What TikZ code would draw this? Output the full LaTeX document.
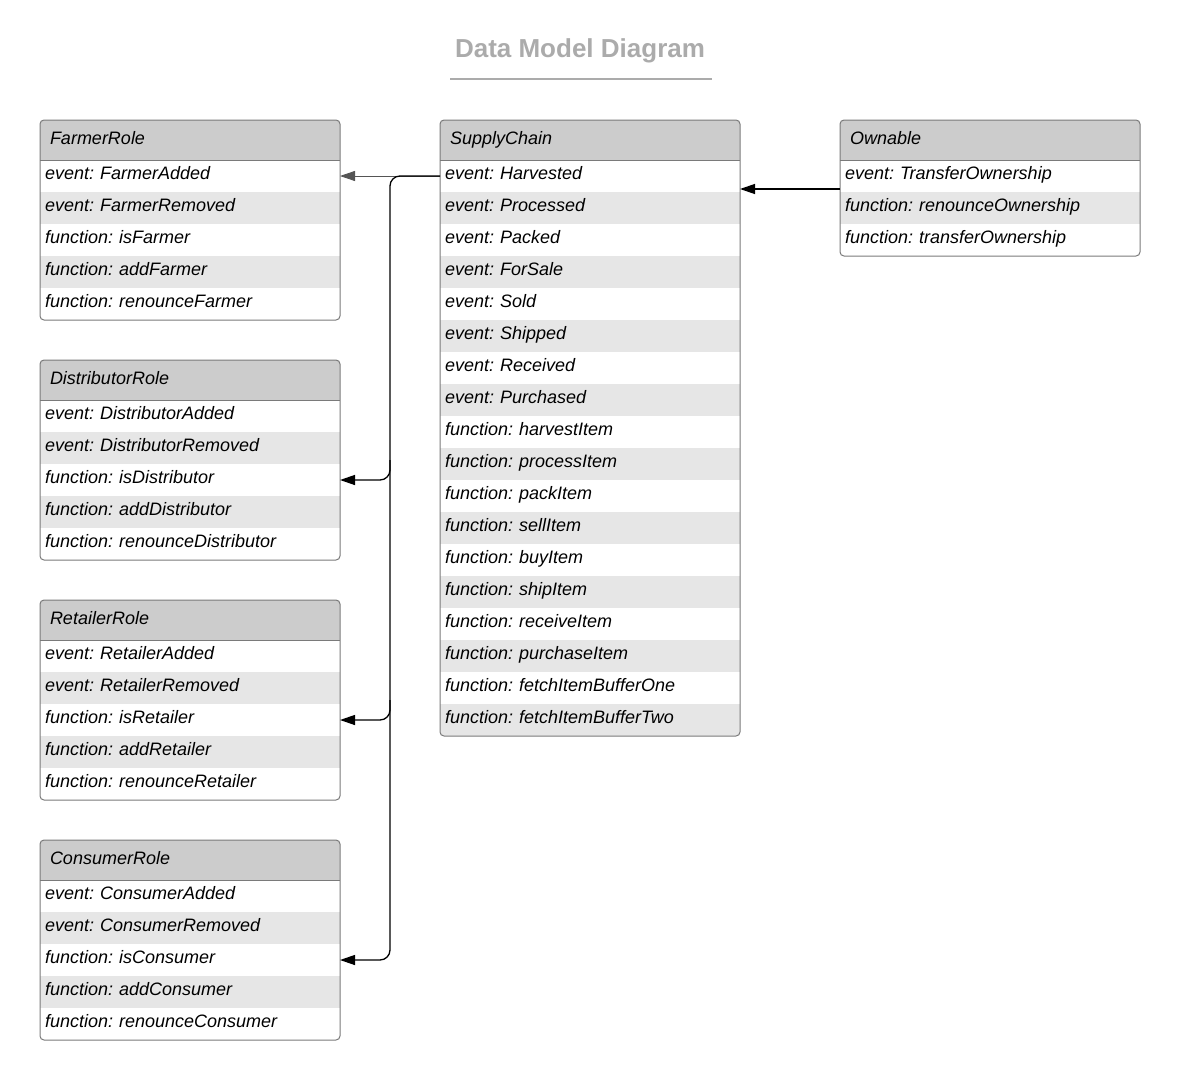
\documentclass[tikz,border=0pt]{standalone}
\usepackage{fontspec}
\setmainfont{Liberation Sans}
\usetikzlibrary{arrows.meta,calc}
\frenchspacing
\definecolor{hdrgray}{HTML}{CCCCCC}
\definecolor{rowgray}{HTML}{E6E6E6}
\definecolor{bordgray}{HTML}{7A7A7A}
\definecolor{titlegray}{HTML}{ABABAB}
\definecolor{linkgray}{HTML}{555555}
\tikzset{
  hdr/.style={fill=hdrgray, text width=280pt, inner xsep=10pt, inner ysep=0pt, minimum height=40pt, outer sep=0pt, align=left, text height=13pt, text depth=4pt, font=\fontsize{18}{21}\selectfont\itshape},
  rowbox/.style={text width=290pt, inner xsep=5pt, inner ysep=0pt, minimum height=32pt, outer sep=0pt, align=left, text height=12pt, text depth=5pt, font=\fontsize{18}{21}\selectfont\itshape},
  bord/.style={draw=bordgray, line width=1pt},
  gconn/.style={draw=linkgray, line width=0.8pt, -{Triangle[length=15pt,width=10pt]}},
  bconn/.style={draw=black, line width=1.3pt, -{Triangle[length=15pt,width=10pt]}},
  titlestyle/.style={text=titlegray, font=\fontsize{26}{30}\selectfont\bfseries, inner sep=0pt},
}
\newcommand\umlbox[6]{%
  \pgfmathsetmacro\boxbot{#3+40+32*#5}
  \begin{scope}
    \clip[rounded corners=4pt] (#2,#3) rectangle (#2+300,\boxbot);
    \node[hdr, anchor=north west] (#1-h) at (#2,#3) {#4};
    \foreach \t [count=\i] in {#6} {
      \pgfmathsetmacro\rowy{#3+40+32*(\i-1)}
      \ifodd\i\relax\def\rowfill{white}\else\def\rowfill{rowgray}\fi
      \node[rowbox, fill=\rowfill, anchor=north west] (#1-\i) at (#2,\rowy) {\t};
    }
  \end{scope}
  \draw[bord] (#1-h.south west) -- (#1-h.south east);
  \draw[bord, rounded corners=4pt] (#2,#3) rectangle (#2+300,\boxbot);
}
\begin{document}
\begin{tikzpicture}[x=1pt,y=-1pt]
\useasboundingbox (0,0) rectangle (1178,1076);
\node[titlestyle, anchor=base] (title) at (580,57) {Data Model Diagram};
\draw[draw=titlegray, line width=1.2pt] (450,79) -- (712,79);

\umlbox{FR}{40}{120}{FarmerRole}{5}{event: FarmerAdded,event: FarmerRemoved,function: isFarmer,function: addFarmer,function: renounceFarmer}
\umlbox{DR}{40}{360}{DistributorRole}{5}{event: DistributorAdded,event: DistributorRemoved,function: isDistributor,function: addDistributor,function: renounceDistributor}
\umlbox{RR}{40}{600}{RetailerRole}{5}{event: RetailerAdded,event: RetailerRemoved,function: isRetailer,function: addRetailer,function: renounceRetailer}
\umlbox{CR}{40}{840}{ConsumerRole}{5}{event: ConsumerAdded,event: ConsumerRemoved,function: isConsumer,function: addConsumer,function: renounceConsumer}
\umlbox{SC}{440}{120}{SupplyChain}{18}{event: Harvested,event: Processed,event: Packed,event: ForSale,event: Sold,event: Shipped,event: Received,event: Purchased,function: harvestItem,function: processItem,function: packItem,function: sellItem,function: buyItem,function: shipItem,function: receiveItem,function: purchaseItem,function: fetchItemBufferOne,function: fetchItemBufferTwo}
\umlbox{OW}{840}{120}{Ownable}{3}{event: TransferOwnership,function: renounceOwnership,function: transferOwnership}

\coordinate (busx) at (390,0);
% gray link
\draw[gconn] (SC-1.west) -- (FR-1.east);
% black bus
\draw[bconn, rounded corners=10pt] (SC-1.west) -| (busx |- CR-3.east) -- (CR-3.east);
\draw[bconn, rounded corners=10pt] ($(busx |- DR-3.east)+(0,-20)$) |- (DR-3.east);
\draw[bconn, rounded corners=10pt] ($(busx |- RR-3.east)+(0,-20)$) |- (RR-3.east);
% Ownable link
\draw[bconn] ([yshift=-13pt]OW-1.west) -- ([yshift=-13pt]SC-1.east);
\end{tikzpicture}
\end{document}
